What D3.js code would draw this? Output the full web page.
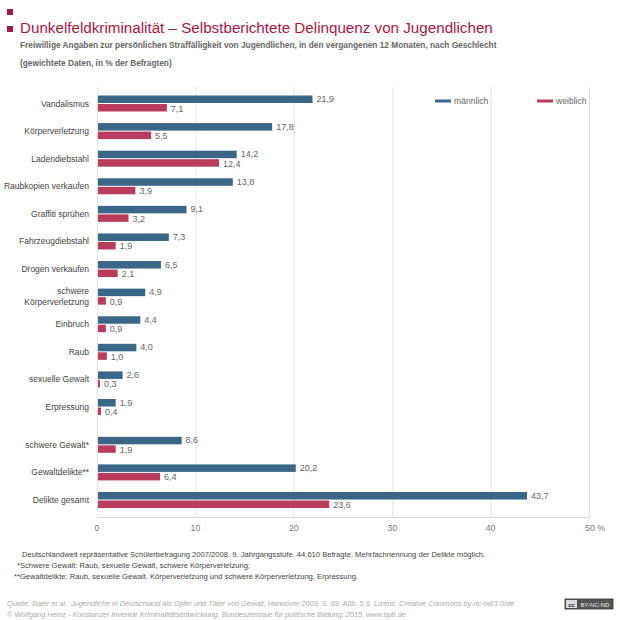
<!DOCTYPE html>
<html>
<head>
<meta charset="utf-8">
<script src="https://cdn.jsdelivr.net/npm/d3@7"></script>
<style>
	body { margin: 0; background: #fff; }
	svg { font-family: "Liberation Sans", Arial, sans-serif; }
</style>
</head>
<body>
<svg width="620" height="620"></svg>
<script>
// Data
const categories = [
	"Vandalismus", "Körperverletzung", "Ladendiebstahl", "Raubkopien verkaufen",
	"Graffiti sprühen", "Fahrzeugdiebstahl", "Drogen verkaufen", "schwere|Körperverletzung",
	"Einbruch", "Raub", "sexuelle Gewalt", "Erpressung",
	"schwere Gewalt*", "Gewaltdelikte**", "Delikte gesamt"
];
const maleValues = [21.9, 17.8, 14.2, 13.8, 9.1, 7.3, 6.5, 4.9, 4.4, 4.0, 2.6, 1.9, 8.6, 20.2, 43.7];
const femaleValues = [7.1, 5.5, 12.4, 3.9, 3.2, 1.9, 2.1, 0.9, 0.9, 1.0, 0.3, 0.4, 1.9, 6.4, 23.6];
const xTicks = [0, 10, 20, 30, 40, 50];
const xTickLabels = ["0", "10", "20", "30", "40", "50 %"];
const seriesNames = ["männlich", "weiblich"];
// the last three rows are summary rows, set apart by a small gap
const summaryStart = 12;

const colMale = "#3a6687";
const colFemale = "#b93c5c";

const svg = d3.select("svg");

// header
svg.append("rect").attr("x", 7).attr("y", 9).attr("width", 6).attr("height", 6).attr("fill", "#a3193f");
svg.append("rect").attr("x", 7).attr("y", 26).attr("width", 6).attr("height", 6).attr("fill", "#a3193f");
svg.append("text").attr("x", 20).attr("y", 33)
	.attr("font-size", 15.2).attr("fill", "#a3193f")
	.text("Dunkelfeldkriminalität – Selbstberichtete Delinquenz von Jugendlichen");
svg.append("text").attr("x", 20).attr("y", 48)
	.attr("font-size", 8.3).attr("font-weight", "bold").attr("fill", "#666")
	.text("Freiwillige Angaben zur persönlichen Straffälligkeit von Jugendlichen, in den vergangenen 12 Monaten, nach Geschlecht");
svg.append("text").attr("x", 20).attr("y", 66)
	.attr("font-size", 8.3).attr("font-weight", "bold").attr("fill", "#666")
	.text("(gewichtete Daten, in % der Befragten)");

// scales
const x = d3.scaleLinear().domain([0, 50]).range([97, 589]);
const slot = (i) => i + (i >= summaryStart ? 0.37 : 0);
const y = d3.scaleLinear().domain([0, slot(categories.length - 1)]).range([103.5, 500]);

const plotTop = 87, plotBottom = 517;
const barH = 7.5;

const g = svg.append("g");

// grid
g.selectAll(".grid")
	.data(xTicks)
	.enter()
	.append("line")
	.attr("x1", (d) => x(d) + 0.5)
	.attr("x2", (d) => x(d) + 0.5)
	.attr("y1", plotTop)
	.attr("y2", plotBottom)
	.attr("stroke", "#e4e4e4")
	.attr("stroke-width", 1);

// axis line
g.append("line")
	.attr("x1", x(0)).attr("x2", x(50) + 1)
	.attr("y1", plotBottom + 0.5).attr("y2", plotBottom + 0.5)
	.attr("stroke", "#d8d8d8");

g.selectAll(".tickLabel")
	.data(xTicks)
	.enter()
	.append("text")
	.attr("x", (d, i) => (i == xTicks.length - 1 ? x(d) - 4 : x(d)))
	.attr("y", 531)
	.attr("text-anchor", (d, i) => (i == xTicks.length - 1 ? "start" : "middle"))
	.attr("font-size", 8.8)
	.attr("fill", "#777")
	.text((d, i) => xTickLabels[i]);

const fmt = (v) => v.toFixed(1).replace(".", ",");

// bars
const rows = categories.map((c, i) => ({ c, i, m: maleValues[i], f: femaleValues[i] }));

g.selectAll(".male")
	.data(rows)
	.enter()
	.append("rect")
	.attr("x", x(0) + 1)
	.attr("y", (d) => y(slot(d.i)) - barH - 0.5)
	.attr("width", (d) => x(d.m) - x(0) - 1)
	.attr("height", barH)
	.attr("fill", colMale);

g.selectAll(".female")
	.data(rows)
	.enter()
	.append("rect")
	.attr("x", x(0) + 1)
	.attr("y", (d) => y(slot(d.i)) + 0.5)
	.attr("width", (d) => x(d.f) - x(0) - 1)
	.attr("height", barH)
	.attr("fill", colFemale);

// value labels
g.selectAll(".mLabel")
	.data(rows)
	.enter()
	.append("text")
	.attr("x", (d) => x(d.m) + 4)
	.attr("y", (d) => y(slot(d.i)) - 1.5)
	.attr("font-size", 9)
	.attr("fill", "#666")
	.text((d) => fmt(d.m));

g.selectAll(".fLabel")
	.data(rows)
	.enter()
	.append("text")
	.attr("x", (d) => x(d.f) + 4)
	.attr("y", (d) => y(slot(d.i)) + 8)
	.attr("font-size", 9)
	.attr("fill", "#666")
	.text((d) => fmt(d.f));

// category labels
const catLabels = g.selectAll(".cat")
	.data(rows)
	.enter()
	.append("text")
	.attr("text-anchor", "end")
	.attr("font-size", 8.5)
	.attr("fill", "#444")
	.attr("x", 89)
	.attr("y", (d) => y(slot(d.i)) + 3);

catLabels.each(function (d) {
	const parts = d.c.split("|");
	const t = d3.select(this);
	if (parts.length == 1) {
		t.text(parts[0]);
	} else {
		parts.forEach((p, k) => {
			t.append("tspan")
				.attr("x", 89)
				.attr("dy", k == 0 ? -5.5 : 11)
				.text(p);
		});
	}
});

// legend
const legend = [
	{ name: seriesNames[0], color: colMale, x: 435 },
	{ name: seriesNames[1], color: colFemale, x: 537 }
];
legend.forEach((l) => {
	svg.append("rect").attr("x", l.x).attr("y", 99.5).attr("width", 16).attr("height", 3).attr("fill", l.color);
	svg.append("text").attr("x", l.x + 19).attr("y", 104)
		.attr("font-size", 8.6).attr("fill", "#666").text(l.name);
});

// notes
const notes = [
	{ x: 22, y: 557, t: "Deutschlandweit repräsentative Schülerbefragung 2007/2008. 9. Jahrgangsstufe. 44.610 Befragte. Mehrfachnennung der Delikte möglich." },
	{ x: 17, y: 568, t: "*Schwere Gewalt: Raub, sexuelle Gewalt, schwere Körperverletzung;" },
	{ x: 14, y: 579, t: "**Gewaltdelikte: Raub, sexuelle Gewalt, Körperverletzung und schwere Körperverletzung, Erpressung." }
];
notes.forEach((n) => {
	svg.append("text").attr("x", n.x).attr("y", n.y)
		.attr("font-size", 7.6).attr("fill", "#444").text(n.t);
});

const sources = [
	"Quelle: Baier et al.: Jugendliche in Deutschland als Opfer und Täter von Gewalt, Hannover 2009, S. 69, Abb. 5.6; Lizenz: Creative Commons by-nc-nd/3.0/de",
	"© Wolfgang Heinz - Konstanzer Inventar Kriminalitätsentwicklung; Bundeszentrale für politische Bildung; 2015, www.bpb.de"
];
sources.forEach((s, i) => {
	svg.append("text").attr("x", 7).attr("y", 606 + i * 11)
		.attr("font-size", 7.3).attr("font-style", "italic").attr("fill", "#aaa").text(s);
});

// cc badge
const badge = svg.append("g").attr("transform", "translate(565,599)");
badge.append("rect").attr("width", 48).attr("height", 10).attr("fill", "#555").attr("stroke", "#333").attr("stroke-width", 0.8);
badge.append("rect").attr("x", 1).attr("y", 1).attr("width", 11).attr("height", 8).attr("fill", "#ddd");
badge.append("text").attr("x", 6.5).attr("y", 7.5).attr("text-anchor", "middle").attr("font-size", 6).attr("font-weight", "bold").attr("fill", "#222").text("cc");
badge.append("text").attr("x", 30).attr("y", 7.5).attr("text-anchor", "middle").attr("font-size", 6).attr("fill", "#eee").text("BY-NC-ND");
</script>
</body>
</html>
